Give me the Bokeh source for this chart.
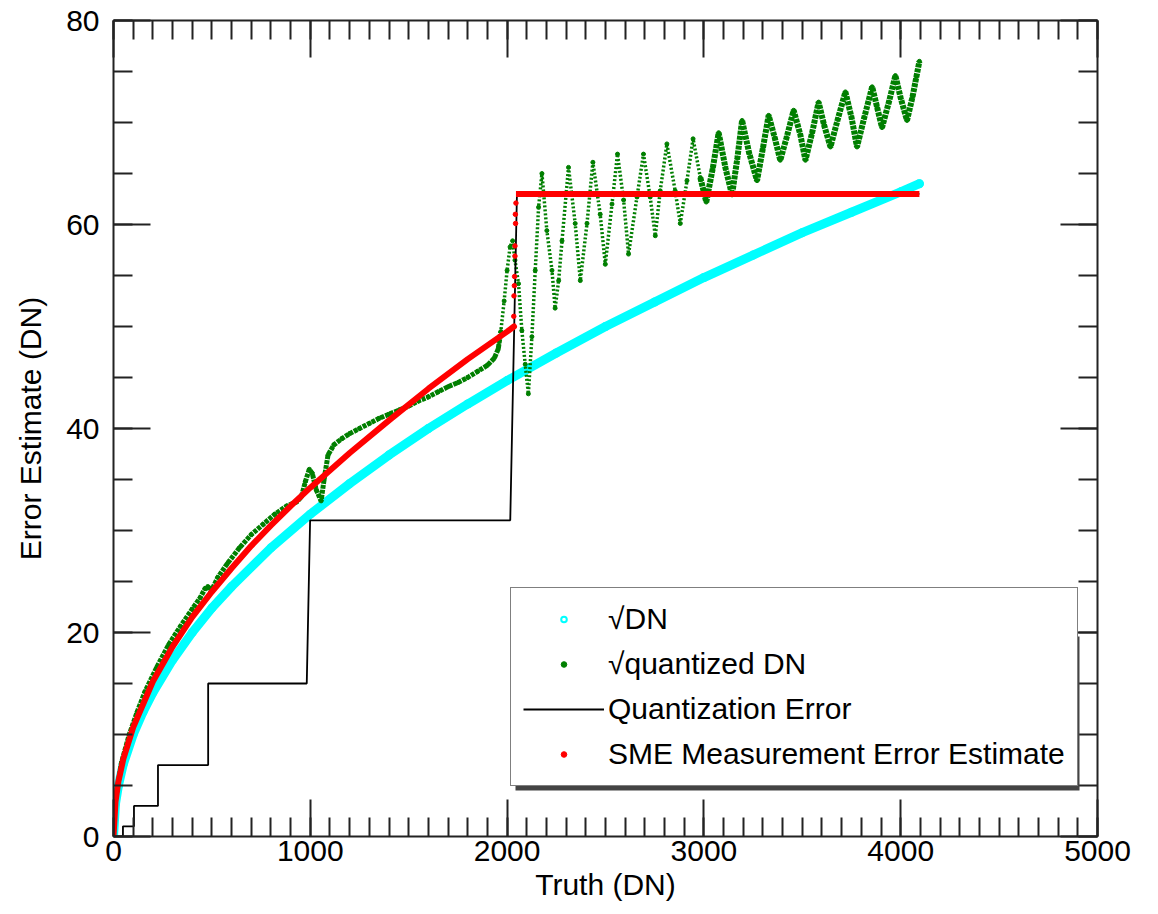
from bokeh.plotting import figure
from bokeh.models import (Range1d, SingleIntervalTicker, LinearAxis, Legend, LegendItem,
                          CustomJSTickFormatter, BoxAnnotation)
from bokeh.embed import file_html
from bokeh.resources import INLINE

# ---------------- data ----------------
sqrt_dn_x = [0, 10, 25, 50, 100, 150, 200, 300, 400, 500, 600, 800, 1000, 1200, 1400,
             1600, 1800, 2000, 2250, 2500, 2750, 3000, 3250, 3500, 3750, 4000, 4095]
sqrt_dn_y = [0.0, 3.2, 5.0, 7.1, 10.0, 12.2, 14.1, 17.3, 20.0, 22.4, 24.5, 28.3, 31.6, 34.6, 37.4,
             40.0, 42.4, 44.7, 47.4, 50.0, 52.4, 54.8, 57.0, 59.2, 61.2, 63.2, 64.0]

quant_dn_x = [10, 40, 80, 120, 160, 220, 280, 340, 400, 440, 465, 480, 495, 530, 580, 640, 700,
              760, 820, 880, 930, 955, 975, 995, 1010, 1030, 1055, 1070, 1090, 1120, 1160, 1200,
              1250, 1300, 1350, 1400, 1450, 1500, 1550, 1600, 1650, 1700, 1750, 1800, 1850, 1900,
              1935, 1955, 1968, 1985, 2000, 2015, 2028, 2040, 2058, 2075, 2092, 2108, 2126, 2143,
              2160, 2177, 2202, 2228, 2244, 2262, 2279, 2312, 2346, 2372, 2406, 2436, 2473, 2499,
              2533, 2561, 2592, 2617, 2660, 2693, 2727, 2753, 2778, 2812, 2854, 2880, 2914, 2945,
              2982, 3012, 3045, 3075, 3110, 3143, 3170, 3194, 3230, 3270, 3300, 3329, 3360, 3388,
              3420, 3456, 3490, 3516, 3550, 3583, 3610, 3643, 3680, 3719, 3750, 3778, 3815, 3855,
              3880, 3905, 3940, 3973, 4000, 4032, 4060, 4080, 4095]
quant_dn_y = [3.6, 7.2, 10.0, 12.2, 14.2, 16.6, 18.8, 20.6, 22.3, 23.4, 24.3, 24.5, 24.0, 25.4, 26.8,
              28.3, 29.6, 30.6, 31.6, 32.4, 32.8, 33.3, 34.8, 36.0, 35.6, 34.0, 32.9, 35.0, 37.4,
              38.4, 39.0, 39.5, 40.0, 40.5, 41.0, 41.4, 41.8, 42.2, 42.7, 43.1, 43.6, 44.1, 44.5,
              45.0, 45.6, 46.2, 46.9, 47.8, 49.5, 52.5, 55.5, 57.8, 58.4, 56.5, 54.2, 49.6, 46.3,
              43.4, 49.0, 55.5, 61.7, 65.0, 59.4, 55.5, 51.8, 54.5, 58.4, 65.6, 60.1, 54.5, 60.1,
              66.1, 61.0, 56.1, 62.0, 66.9, 62.4, 57.1, 62.7, 66.9, 62.7, 58.9, 63.3, 67.9, 63.3,
              60.1, 64.3, 68.4, 64.6, 62.2, 65.5, 69.0, 65.5, 62.9, 66.5, 70.2, 67.0, 64.3, 67.5,
              70.7, 68.5, 66.3, 68.5, 71.2, 68.8, 66.3, 69.0, 72.0, 69.8, 67.6, 70.3, 73.0, 70.5,
              67.6, 70.5, 73.5, 71.5, 69.5, 72.0, 74.6, 72.4, 70.2, 72.5, 74.5, 76.0]

qerr_x = [0, 48, 48, 104, 104, 226, 226, 481, 481, 982, 999, 2016, 2050, 4095]
qerr_y = [0, 0, 1, 1, 3, 3, 7, 7, 15, 15, 31, 31, 63, 63]

sme_curve_x = [0, 10, 25, 50, 100, 200, 300, 400, 500, 600, 700, 800, 900, 1000, 1200, 1400,
               1600, 1800, 2000, 2035]
sme_curve_y = [0.0, 3.4, 5.4, 7.6, 10.7, 15.2, 18.6, 21.5, 24.0, 26.3, 28.5, 30.5, 32.4, 34.2,
               37.6, 40.8, 43.9, 46.8, 49.5, 50.0]
sme_jump_x = [2034, 2035, 2037, 2038, 2040, 2040, 2043, 2042, 2045]
sme_jump_y = [51.0, 53.0, 54.0, 54.9, 56.9, 57.9, 60.1, 61.0, 62.1]
sme_flat_x = [2045, 4095]
sme_flat_y = [63.0, 63.0]

x_major, x_minor = 1000, 10
y_major, y_minor = 20, 4

FONT = "Liberation Sans"
FS = "30px"

# ---------------- figure ----------------
p = figure(width=1158, height=914, x_range=Range1d(0, 5000), y_range=Range1d(0, 80),
           output_backend="svg", toolbar_location=None,
           x_axis_label="Truth (DN)", y_axis_label="Error Estimate (DN)",
           min_border_left=113, min_border_right=61, min_border_top=20, min_border_bottom=78)
p.grid.visible = False
p.outline_line_color = None
p.background_fill_color = "white"
p.border_fill_color = "white"


def style_axis(ax, labels=True):
    ax.axis_line_color = "#222222"
    ax.axis_line_width = 2
    ax.major_tick_line_color = "#222222"
    ax.major_tick_line_width = 2
    ax.minor_tick_line_color = "#222222"
    ax.minor_tick_line_width = 2
    ax.major_tick_in = 37
    ax.major_tick_out = 0
    ax.minor_tick_in = 19
    ax.minor_tick_out = 0
    if labels:
        ax.major_label_text_font = FONT
        ax.major_label_text_font_size = FS
        ax.major_label_text_color = "black"
        ax.axis_label_text_font = FONT
        ax.axis_label_text_font_size = FS
        ax.axis_label_text_font_style = "normal"
        ax.axis_label_text_color = "black"
    else:
        ax.formatter = CustomJSTickFormatter(code="return ''")
        ax.major_label_text_font_size = "1px"
        ax.major_label_standoff = 0
        ax.axis_label = None


xt = SingleIntervalTicker(interval=x_major, num_minor_ticks=x_minor)
yt = SingleIntervalTicker(interval=y_major, num_minor_ticks=y_minor)

p.xaxis[0].ticker = xt
p.yaxis[0].ticker = yt
style_axis(p.xaxis[0])
style_axis(p.yaxis[0])
p.xaxis[0].major_label_standoff = 4
p.xaxis[0].axis_label_standoff = 4
p.yaxis[0].major_label_standoff = 14
p.yaxis[0].axis_label_standoff = 16

top_ax = LinearAxis(ticker=xt)
right_ax = LinearAxis(ticker=yt)
style_axis(top_ax, labels=False)
style_axis(right_ax, labels=False)
p.add_layout(top_ax, "above")
p.add_layout(right_ax, "right")

# ---------------- glyphs ----------------
cyan_pts = p.scatter(sqrt_dn_x, sqrt_dn_y, marker="circle", size=7, fill_color=None,
                     line_color="#00FFFF", line_width=2)
p.line(sqrt_dn_x, sqrt_dn_y, line_color="#00FFFF", line_width=9, line_cap="round")

# green: noisy dense parts drawn as a thick broken band, fast oscillation part dotted
GREEN = "#007F00"
dense_lo = [i for i, x in enumerate(quant_dn_x) if x <= 1968]
sparse = [i for i, x in enumerate(quant_dn_x) if 1955 <= x <= 3012]
dense_hi = [i for i, x in enumerate(quant_dn_x) if x >= 2982]
for idx, width, dash in ((dense_lo, 5, "4 1"), (sparse, 3.5, "2 2"), (dense_hi, 6, "4 1")):
    p.line([quant_dn_x[i] for i in idx], [quant_dn_y[i] for i in idx],
           line_color=GREEN, line_width=width, line_dash=dash)
green_pts = p.scatter(quant_dn_x, quant_dn_y, marker="circle", size=4,
                      fill_color=GREEN, line_color=GREEN)

q_line = p.line(qerr_x, qerr_y, line_color="black", line_width=1.8)

p.line(sme_curve_x, sme_curve_y, line_color="#FF0000", line_width=6, line_cap="round")
p.line(sme_flat_x, sme_flat_y, line_color="#FF0000", line_width=6)
red_pts = p.scatter(sme_jump_x, sme_jump_y, marker="circle", size=4.5,
                    fill_color="#FF0000", line_color="#FF0000")

# legend drop shadow (screen units, relative to the frame's bottom-left corner)
shadow = BoxAnnotation(left=402, right=966, bottom=46, top=200,
                       left_units="screen", right_units="screen",
                       bottom_units="screen", top_units="screen",
                       fill_color="#444444", fill_alpha=1.0, line_color=None)
p.add_layout(shadow)

legend = Legend(items=[
    LegendItem(label="√DN", renderers=[cyan_pts]),
    LegendItem(label="√quantized DN", renderers=[green_pts]),
    LegendItem(label="Quantization Error", renderers=[q_line]),
    LegendItem(label="SME Measurement Error Estimate", renderers=[red_pts]),
], location=(397, 50))
legend.label_text_font = FONT
legend.label_text_font_size = FS
legend.label_text_color = "black"
legend.label_height = 38
legend.glyph_height = 14
legend.glyph_width = 81
legend.label_standoff = 4
legend.spacing = 7
legend.padding = 12
legend.margin = 0
legend.border_line_color = "black"
legend.border_line_width = 1.5
legend.background_fill_color = "white"
legend.background_fill_alpha = 1.0
p.add_layout(legend)

open("out.html", "w").write(file_html(p, INLINE))
